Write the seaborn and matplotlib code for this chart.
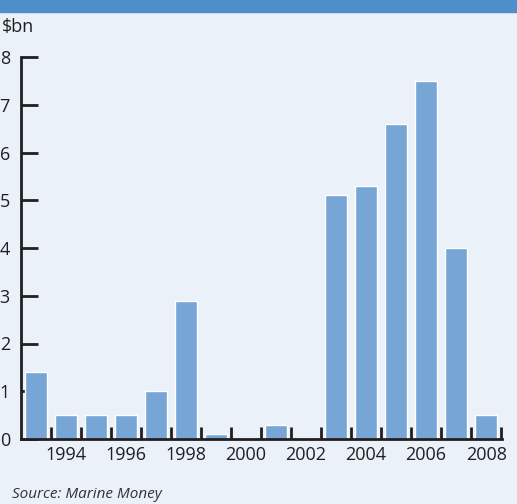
import matplotlib
matplotlib.use("Agg")
import matplotlib.pyplot as plt
import seaborn as sns
import pandas as pd

years = list(range(1993, 2009))
values = [1.4, 0.5, 0.5, 0.5, 1.0, 2.9, 0.1, 0.0, 0.3, 0.0, 5.1, 5.3, 6.6, 7.5, 4.0, 0.5]
y_ticks = [0, 1, 2, 3, 4, 5, 6, 7, 8]

bg = "#eaf1f9"
bar_color = "#77a5d6"
band_color = "#4d8fcb"
ink = "#231f20"

sns.set_theme(style="white")
plt.rcParams["font.family"] = ["Open Sans", "DejaVu Sans"]

df = pd.DataFrame({"year": years, "value": values})

fig = plt.figure(figsize=(5.17, 5.04), dpi=100, facecolor=bg)
ax = fig.add_axes([21 / 517, 65 / 504, 481 / 517, 382 / 504])
ax.set_facecolor(bg)

sns.barplot(data=df, x="year", y="value", color=bar_color, width=0.73,
            saturation=1, ax=ax)

ax.set_ylim(0, 8)
ax.set_xlim(-0.5, len(years) - 0.47)
ax.set_xlabel("")
ax.set_ylabel("")

for s in ["top", "right"]:
    ax.spines[s].set_visible(False)
for s in ["left", "bottom"]:
    ax.spines[s].set_color(ink)
    ax.spines[s].set_linewidth(2)

# y axis: ticks pointing inward
ax.set_yticks(y_ticks)
ax.set_yticklabels([str(v) for v in y_ticks])
ax.tick_params(axis="y", left=True, direction="in", length=12, width=2,
               color=ink, labelsize=13, labelcolor=ink, pad=8)

# x axis: labels on even years, small ticks between bars
label_pos = [i for i, y in enumerate(years) if y % 2 == 0]
ax.set_xticks(label_pos)
ax.set_xticklabels([str(years[i]) for i in label_pos])
ax.tick_params(axis="x", which="major", bottom=False, length=0,
               labelsize=13, labelcolor=ink, pad=5)
ax.set_xticks([i + 0.5 for i in range(len(years))], minor=True)
ax.tick_params(axis="x", which="minor", bottom=True, direction="in",
               length=9, width=2, color=ink)

# top colour band
fig.patches.append(plt.Rectangle((0, 1 - 12 / 504), 1, 12 / 504,
                                 transform=fig.transFigure, color=band_color,
                                 zorder=0))

fig.text(2 / 517, 1 - 27 / 504, "$bn", fontsize=13, color=ink, va="center",
         ha="left")
fig.text(12 / 517, 1 - 495 / 504, "Source: Marine Money", fontsize=11,
         color="#333333", style="italic", va="center", ha="left")

fig.savefig("out.png", dpi=100, facecolor=bg)
